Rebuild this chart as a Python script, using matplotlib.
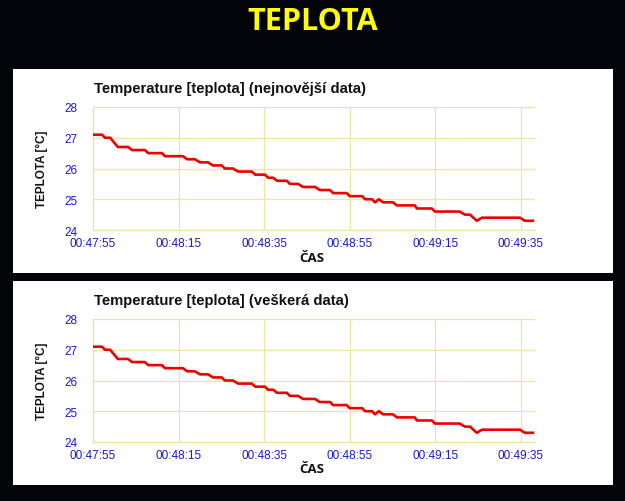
import matplotlib
matplotlib.use("Agg")
import matplotlib.pyplot as plt
from matplotlib.patches import Rectangle

# ---- data (seconds since 00:47:55, temperature in °C) ----
time_s = [0, 2.1, 2.8, 4.0, 5.8, 8.2, 9.1, 12.1, 12.9, 16.1, 16.8, 21.0, 22.0, 23.8,
          25.0, 26.9, 28.0, 30.1, 30.8, 32.7, 33.9, 37.1, 37.9, 40.2, 40.9, 42.1,
          43.0, 45.3, 46.0, 47.9, 49.1, 51.9, 53.0, 55.4, 56.1, 59.3, 60.0, 62.9,
          63.6, 65.2, 65.9, 66.8, 67.8, 70.1, 71.0, 75.2, 75.7, 79.2, 79.9, 85.7,
          86.9, 88.1, 89.7, 90.9, 99.8, 100.9, 102.8]
temp_c = [27.1, 27.1, 27.0, 27.0, 26.7, 26.7, 26.6, 26.6, 26.5, 26.5, 26.4, 26.4, 26.3, 26.3,
          26.2, 26.2, 26.1, 26.1, 26.0, 26.0, 25.9, 25.9, 25.8, 25.8, 25.7, 25.7,
          25.6, 25.6, 25.5, 25.5, 25.4, 25.4, 25.3, 25.3, 25.2, 25.2, 25.1, 25.1,
          25.0, 25.0, 24.9, 25.0, 24.9, 24.9, 24.8, 24.8, 24.7, 24.7, 24.6, 24.6,
          24.5, 24.5, 24.3, 24.4, 24.4, 24.3, 24.3]
x_ticks = [0, 20, 40, 60, 80, 100]
x_tick_labels = ["00:47:55", "00:48:15", "00:48:35", "00:48:55", "00:49:15", "00:49:35"]
y_ticks = [24, 25, 26, 27, 28]
chart_titles = ["Temperature [teplota] (nejnovější data)",
                "Temperature [teplota] (veškerá data)"]

W, H = 625, 502
fig = plt.figure(figsize=(W / 100, H / 100), dpi=100)
fig.patch.set_facecolor("#03030a")

def fx(px):
    return px / W

def fy(py):
    return 1 - py / H

fig.text(fx(313), fy(22), "TEPLOTA", color="#ffff00", fontsize=22,
         fontweight="bold", family="Open Sans", ha="center", va="center")

panels = [(70, 274, 108, 231), (282, 486, 320, 443)]
grid_col = "#efe4a6"
blue = "#1a1acc"

for (ptop, pbot, atop, abot), title in zip(panels, chart_titles):
    fig.patches.append(Rectangle((fx(13), fy(pbot)), fx(613) - fx(13), fy(ptop) - fy(pbot),
                                 transform=fig.transFigure, facecolor="white",
                                 edgecolor="none", zorder=-5))
    ax = fig.add_axes([fx(93), fy(abot), fx(535) - fx(93), fy(atop) - fy(abot)])
    ax.set_zorder(2)
    ax.set_facecolor("white")
    ax.plot(time_s, temp_c, color="#ee0000", lw=1.9, solid_joinstyle="round", zorder=3)
    ax.set_xlim(0, 103.3)
    ax.set_ylim(24, 28)
    ax.set_xticks(x_ticks)
    ax.set_xticklabels(x_tick_labels)
    ax.set_yticks(y_ticks)
    ax.grid(True, color=grid_col, lw=0.9)
    for s in ["top", "right"]:
        ax.spines[s].set_visible(False)
    for s in ["left", "bottom"]:
        ax.spines[s].set_color(grid_col)
        ax.spines[s].set_linewidth(0.9)
    ax.tick_params(length=0, colors=blue, labelsize=8.5)
    ax.tick_params(axis="y", pad=11)
    ax.tick_params(axis="x", pad=5)
    for lab in ax.get_xticklabels() + ax.get_yticklabels():
        lab.set_family("Liberation Sans")
    fig.text(fx(94), fy(atop - 19), title, fontsize=10.7, fontweight="bold",
             family="Liberation Sans", color="#111111", ha="left", va="center")
    fig.text(fx(42), fy((atop + abot) / 2), "TEPLOTA [°C]", fontsize=8.5,
             fontweight="bold", family="Liberation Sans", rotation=90,
             ha="center", va="center", color="#111111")
    fig.text(fx(312), fy(abot + 27), "ČAS", fontsize=9.5, fontweight="bold",
             family="Open Sans", ha="center", va="center", color="#111111")

fig.savefig("out.png", dpi=100, facecolor=fig.get_facecolor())
